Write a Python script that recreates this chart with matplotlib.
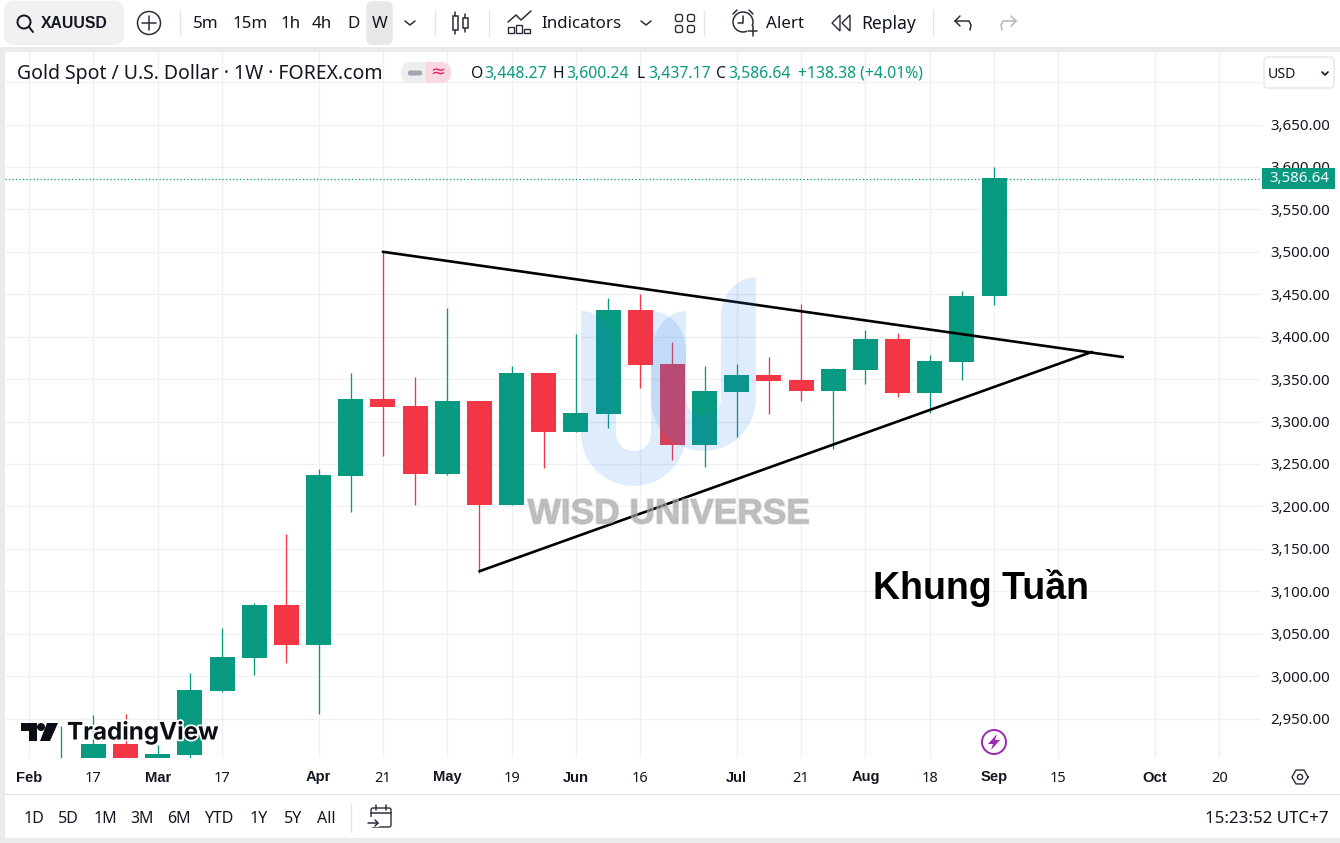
import numpy as np
import matplotlib
matplotlib.use("Agg")
import matplotlib.pyplot as plt
from matplotlib.patches import Rectangle, FancyBboxPatch, Polygon, Circle
from matplotlib.transforms import blended_transform_factory
import matplotlib.patheffects as pe

plt.rcParams['font.family'] = ['Noto Sans', 'DejaVu Sans']

# ---------- data ----------
week_index = list(range(1, 31))
opens  = [2880,2895,2920,2895,2907,2982.4,3021.3,3083.8,3036.6,3235.8,3326.5,3318.3,3238.1,3324.2,3201.6,3357.2,3287.6,3308.8,3431.4,3367.8,3272.3,3334.7,3354.8,3348.9,3335.9,3360.6,3397.2,3333.6,3370.1,3448.27]
highs  = [2941.2,2954.1,2955.3,2918.8,3003.6,3056.6,3086.1,3167.4,3244,3357.2,3499.8,3352.4,3433.8,3324.2,3365.4,3357.2,3403.1,3445.5,3450.3,3393.7,3365.4,3367.8,3376,3438.5,3363,3407.8,3404.3,3378.4,3453.8,3600.24]
lows   = [2870,2880,2880,2880,2890,2981.2,3001.2,3015.4,2955.3,3193.4,3259.3,3201.6,3237,3121.5,3201.6,3245.2,3287.6,3292.3,3339.5,3254.6,3246.4,3281.7,3308.8,3324.2,3267.6,3344.2,3328.9,3310,3348.9,3437.17]
closes = [2895,2920,2895,2908.2,2983.6,3022.5,3083.8,3036.6,3237,3326.5,3317.1,3238.1,3324.2,3201.6,3357.2,3287.6,3310,3431.4,3366.6,3272.3,3335.9,3354.8,3347.7,3335.9,3361.8,3397.2,3333.6,3371.3,3447.9,3586.64]

price_ticks = [2950,3000,3050,3100,3150,3200,3250,3300,3350,3400,3450,3500,3550,3600,3650]
grid_only_prices = [3700]
time_pos = [0,2,4,6,9,11,13,15,17,19,22,24,26,28,30,32,35,37]
time_labels = ['Feb','17','Mar','17','Apr','21','May','19','Jun','16','Jul','21','Aug','18','Sep','15','Oct','20']
month_labels = {'Feb','Mar','Apr','May','Jun','Jul','Aug','Sep','Oct'}
upper_x, upper_y = [11.0, 34.0], [3500, 3376]
lower_x, lower_y = [14.0, 33.04], [3123.5, 3382]
last_price = closes[-1]

GREEN, RED, DARK, GRID, FRAME = '#089981', '#f23645', '#131722', '#f0f1f3', '#ebebeb'
W, H = 1340, 843
fig = plt.figure(figsize=(W/100, H/100), dpi=100, facecolor=FRAME)

def axbox(x0, y0, x1, y1):
    return [x0/W, 1-y1/H, (x1-x0)/W, (y1-y0)/H]

# ---------- chrome behind ----------
bg = fig.add_axes([0,0,1,1], zorder=0)
bg.set_xlim(0,W); bg.set_ylim(H,0); bg.axis('off')
bg.add_patch(Rectangle((0,0),W,47,fc='white',ec='none'))
bg.add_patch(Rectangle((5,52),W,786,fc='white',ec='none'))
bg.add_patch(FancyBboxPatch((8,5),112,36,boxstyle='round,pad=0,rounding_size=6',fc='#f1f1f1',ec='#f1f1f1',lw=6))
bg.add_patch(FancyBboxPatch((369,4),21,38,boxstyle='round,pad=0,rounding_size=3',fc='#e8e8e8',ec='#e8e8e8',lw=4))

# ---------- main chart ----------
x_per = 32.17
ax = fig.add_axes(axbox(5,52,1262,758), zorder=1)
ax.set_xlim((5-29)/x_per, (1262-29)/x_per)
ax.set_ylim(3650-(758-124.5)*1.17845, 3650+(124.5-52)*1.17845)
ax.patch.set_alpha(0)
for s in ax.spines.values():
    s.set_visible(False)
ax.set_axisbelow(True)
ax.yaxis.tick_right()
ax.set_yticks(price_ticks+grid_only_prices)
ax.set_yticklabels([f'{p:,.2f}' for p in price_ticks]+['' for _ in grid_only_prices], fontsize=10.8, color=DARK)
ax.set_xticks(time_pos)
ax.set_xticklabels(time_labels, fontsize=10.5, color=DARK)
for t in ax.get_xticklabels():
    if t.get_text() in month_labels:
        t.set_fontfamily('Liberation Sans')
        t.set_fontweight('bold')
        t.set_fontsize(10.6)
ax.tick_params(axis='y', length=0, pad=6)
ax.tick_params(axis='x', length=0, pad=9)
ax.grid(True, color=GRID, lw=1)

colors = [GREEN if c >= o else RED for o, c in zip(opens, closes)]
ax.vlines(week_index, lows, highs, colors=colors, lw=0.95, zorder=3)
bottoms = [min(o,c) for o,c in zip(opens,closes)]
heights = [abs(o-c) for o,c in zip(opens,closes)]
ax.bar(week_index, heights, bottom=bottoms, width=25/x_per, color=colors, lw=0, zorder=4)
ax.axhline(last_price-0.6, color=GREEN, lw=0.9, ls=(0,(1,1.8)), zorder=2)

# ---------- overlay chrome ----------
ov = fig.add_axes([0,0,1,1], zorder=5)
ov.set_xlim(0,W); ov.set_ylim(H,0); ov.axis('off'); ov.patch.set_alpha(0)

def txt(x, y, s, size=12.2, color=DARK, ha='left', **kw):
    return ov.text(x, y, s, fontsize=size, color=color, ha=ha, va='center', **kw)

def uline(xs, ys, color='#2a2e39', lw=1.1, **kw):
    ov.plot(xs, ys, color=color, lw=lw, solid_capstyle='round', **kw)

# watermark U shapes
def u_shape(cx, cy, ro, ri, top_l, top_r, tip_l, tip_r):
    t = np.linspace(np.pi, 0, 40)
    outer = np.c_[cx+ro*np.cos(t), cy+ro*np.sin(t)]
    inner = np.c_[cx+ri*np.cos(t[::-1]), cy+ri*np.sin(t[::-1])]
    s = np.linspace(0, np.pi/2, 14)
    wr = ro-ri
    right_tip = np.c_[(cx+ro)-wr*np.sin(s), top_r+tip_r*(1-np.cos(s))]
    left_tip = np.c_[(cx-ri)-wr*(1-np.cos(s)), (top_l+tip_l)-tip_l*np.sin(s)]
    return np.r_[[[cx-ro, top_l]], outer, [[cx+ro, top_r]], right_tip, inner, left_tip]

wm = (0.15, 0.50, 0.92, 0.15)
ov.add_patch(Polygon(u_shape(633.5,433.5,52.5,17.5,311,311,40,45), fc=wm, ec='none', zorder=1))
ov.add_patch(Polygon(u_shape(703.5,398.5,52.5,17.5,311,277,40,40), fc=wm, ec='none', zorder=1))
txt(668.5, 514, 'WISD UNIVERSE', size=25.4, color=(0.6,0.6,0.6,0.38), ha='center', family='Liberation Sans',
    fontweight='bold', path_effects=[pe.withStroke(linewidth=1.4, foreground=(0.75,0.75,0.75,0.55))], zorder=2)

# trend lines
for xs, ys in ((upper_x, upper_y), (lower_x, lower_y)):
    ax.plot(xs, ys, color='black', lw=1.9, zorder=20, solid_capstyle='round')

# annotation
txt(981, 588, 'Khung Tuần', size=27, color='black', ha='center', fontweight='bold', family='Liberation Sans', zorder=6)

# last price box
tr = blended_transform_factory(ov.transData, ax.transData)
ov.add_patch(Rectangle((1262, last_price-13), 73, 24.8, transform=tr, fc=GREEN, ec='none', zorder=8))
ov.text(1299, last_price-0.6, f'{last_price:,.2f}', transform=tr, color='white', fontsize=10.8, ha='center', va='center', zorder=9)

# TradingView logo
ov.add_patch(Polygon([(21,723),(37,723),(37,741),(29,741),(29,731),(21,731)], fc='#0c0e15', ec='none', zorder=6))
ov.add_patch(Circle((41,727), 4, fc='#0c0e15', ec='none', zorder=6))
ov.add_patch(Polygon([(47,723),(58,723),(50,741),(40,741)], fc='#0c0e15', ec='none', zorder=6))
txt(67, 733, 'TradingView', size=17.4, color='#0c0e15', fontweight='bold', family='Inter',
    path_effects=[pe.withStroke(linewidth=2.5, foreground='white')], zorder=6)

# lightning badge
ov.add_patch(Circle((994,742), 12, fc='white', ec='#9c27b0', lw=1.4, zorder=6))
ov.add_patch(Polygon([(997,734),(988,744),(993,744),(991,750),(1000,740),(995,740)], fc='#9c27b0', ec='none', zorder=6))

# gear icon on the axis corner
hexa = np.linspace(0,2*np.pi,7)
ov.plot(1300+8*np.cos(hexa), 777+8*np.sin(hexa), color='#2a2e39', lw=1)
ov.add_patch(Circle((1300,777), 2.6, fc='none', ec='#2a2e39', lw=1))

# top toolbar
ov.add_patch(Circle((24,22), 6.5, fc='none', ec=DARK, lw=1.4))
uline([29,33],[27,32], DARK, 1.4)
txt(41, 23.5, 'XAUUSD', size=11.3, fontweight='bold', family='Liberation Sans')
ov.add_patch(Circle((149,23), 11.5, fc='none', ec='#2a2e39', lw=1.1))
uline([142,156],[23,23]); uline([149,149],[16,30])
for x, s in [(193,'5m'),(232,'15m'),(280,'1h'),(312,'4h'),(347,'D'),(372,'W')]:
    txt(x, 24, s)
uline([405,410,415],[21,25,21])
for x in (180, 435, 489, 704, 933):
    uline([x,x],[10,36], '#e6e6e6', 1)
# candle icon
for x, y0, y1, a, b in [(455,12,34,16,30),(465,14,32,18,28)]:
    uline([x,x],[y0,y1]); ov.add_patch(Rectangle((x-2.5,a),5,b-a,fc='white',ec='#2a2e39',lw=1.1,zorder=3))
# indicators icon
for x, y0 in [(511,27),(519,25),(527,29)]:
    ov.add_patch(Rectangle((x-3,y0),6,33-y0,fc='none',ec='#2a2e39',lw=1))
uline([508,516,521,531],[22,15,20,11])
txt(541, 24, 'Indicators')
uline([641,646,651],[21,25,21])
for x, y in [(679,18),(691,18),(679,29),(691,29)]:
    ov.add_patch(FancyBboxPatch((x-3.5,y-3.5),7,7,boxstyle='round,pad=0,rounding_size=2',fc='none',ec='#2a2e39',lw=1))
# alert
ov.add_patch(Circle((743,22), 10, fc='none', ec='#2a2e39', lw=1.1))
uline([743,743,738],[16,23,23])
ov.add_patch(Rectangle((747,26),12,11,fc='white',ec='none',zorder=3))
uline([748,757],[31,31],zorder=4); uline([752.5,752.5],[26,36],zorder=4)
uline([733,737],[14,10]); uline([753,749],[14,10])
txt(766, 24, 'Alert')
ov.add_patch(Polygon([(840,15),(840,31),(832,23)], fc='none', ec='#2a2e39', lw=1))
ov.add_patch(Polygon([(850,15),(850,31),(842,23)], fc='none', ec='#2a2e39', lw=1))
txt(861, 24, 'Replay', size=12.6)
uline([955,969,971,970],[21,21,25,30]); uline([955,960],[21,16]); uline([955,960],[21,26])
g='#b2b5be'
uline([1016,1003,1001,1002],[21,21,25,30],g); uline([1016,1011],[21,16],g); uline([1016,1011],[21,26],g)

# legend row
txt(17, 74, 'Gold Spot / U.S. Dollar · 1W · FOREX.com', size=14)
pill = FancyBboxPatch((401,62),50,21,boxstyle='round,pad=0,rounding_size=10',fc='#eeeeee',ec='none',zorder=1)
ov.add_patch(pill)
pink = Rectangle((426,62),25,21,fc='#f9d8e4',ec='none',zorder=2)
ov.add_patch(pink); pink.set_clip_path(pill)
ov.add_patch(FancyBboxPatch((408,70.5),14,5,boxstyle='round,pad=0,rounding_size=2',fc='#a3a6af',ec='none',zorder=2))
txt(437.5, 72, '≈', size=13, color='#e91e63', ha='center', family='DejaVu Sans', zorder=3)
for x, s, c in [(471,'O',DARK),(484,'3,448.27',GREEN),(553,'H',DARK),(566,'3,600.24',GREEN),(636,'L',DARK),
                (648,'3,437.17',GREEN),(716,'C',DARK),(728,'3,586.64',GREEN),(798,'+138.38 (+4.01%)',GREEN)]:
    txt(x, 74, s, size=11.3, color=c)

# USD select
ov.add_patch(FancyBboxPatch((1264,57),70,31,boxstyle='round,pad=0,rounding_size=4',fc='white',ec='#e6e6e6',lw=1))
txt(1268, 74, 'USD', size=10.2)
uline([1322,1325,1328],[72,75,72], DARK, 1.2)

# bottom bar
uline([5,W],[793.5,793.5], '#e6e6e6', 1)
for x, s in [(24,'1D'),(58,'5D'),(94,'1M'),(130,'3M'),(167,'6M'),(204,'YTD'),(250,'1Y'),(284,'5Y'),(317,'All')]:
    txt(x, 819, s, size=11.5)
uline([351,351],[804,832], '#e6e6e6', 1)
ov.add_patch(FancyBboxPatch((371,808),20,19,boxstyle='round,pad=0,rounding_size=2',fc='none',ec='#2a2e39',lw=1))
uline([371,391],[813,813]); uline([376,376],[805,810]); uline([386,386],[805,810])
ov.add_patch(Rectangle((367,817),12,10,fc='white',ec='none',zorder=2))
uline([368,378],[823,823],zorder=3); uline([375,378,375],[820,823,826],zorder=3)
txt(1329, 819, '15:23:52 UTC+7', size=12.2, ha='right')

fig.savefig('out.png', dpi=100, facecolor=fig.get_facecolor())
